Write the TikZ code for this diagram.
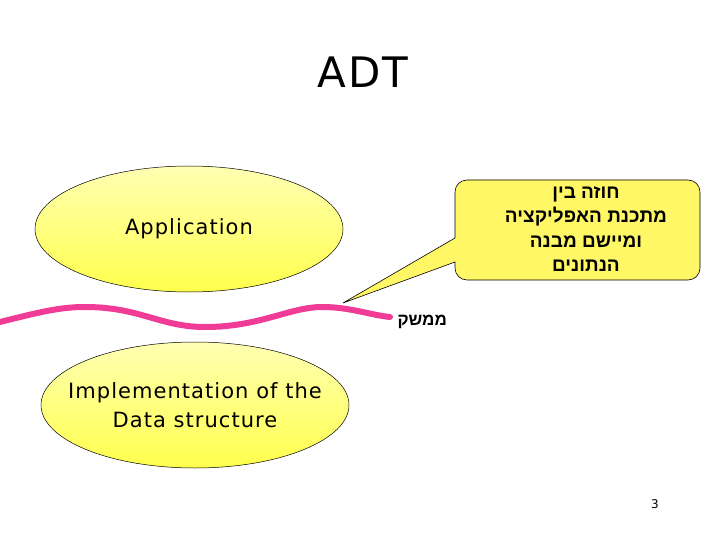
\documentclass[tikz,border=0pt]{standalone}
\usepackage{fontspec}
\setmainfont{DejaVu Sans}[LetterSpace=5]
\newfontfamily\hebfont[Script=Hebrew]{Liberation Sans}
\TeXXeTstate=1
\usetikzlibrary{shapes.geometric}

\begin{document}
\begin{tikzpicture}[x=1pt,y=-1pt,
    blob/.style={ellipse,draw=black,line width=.5pt,inner xsep=-25pt,inner ysep=0pt,
      top color=yellow!30,bottom color=yellow!70,
      minimum width=308pt,minimum height=126pt,align=center,
      font=\fontsize{21}{29}\selectfont},
    heb/.style={font=\hebfont\bfseries\fontsize{19}{24.5}\selectfont,align=center}]
      \useasboundingbox (0,0) rectangle (720,540);
      \node (title) at (363,72) {\fontsize{42}{48}\selectfont ADT};

      \node [blob] (app) at (189,229) {Application};
      \node [blob] (impl) at (195,405) {Implementation of the\\Data structure};

      % speech bubble
      \draw [fill=yellow!60,line width=.6pt]
        (455,238) [rounded corners=12pt] -- (455,180) -- (700,180) -- (700,280)
        -- (455,280) [sharp corners] -- (455,262) -- (343,303) -- cycle;
      \node [heb] (contract) at (586,229)
        {\beginR חוזה בין\endR\\\beginR מתכנת האפליקציה\endR\\
         \beginR ומיישם מבנה\endR\\\beginR הנתונים\endR};

      % interface line
      \draw [line width=6pt,color={rgb,255:red,240;green,60;blue,150},line cap=round]
        (0,322) .. controls (40,312) and (60,307) .. (85,307)
        .. controls (140,307) and (160,327) .. (205,327)
        .. controls (260,327) and (290,307) .. (322,307)
        .. controls (350,307) and (370,315) .. (390,317);
      \node [heb,anchor=west,font=\hebfont\bfseries\fontsize{17}{20}\selectfont]
        (iface) at (394,322) {\beginR ממשק\endR};

      \node (page) at (655,504) {\fontsize{12}{14}\selectfont 3};
    \end{tikzpicture}
\end{document}
